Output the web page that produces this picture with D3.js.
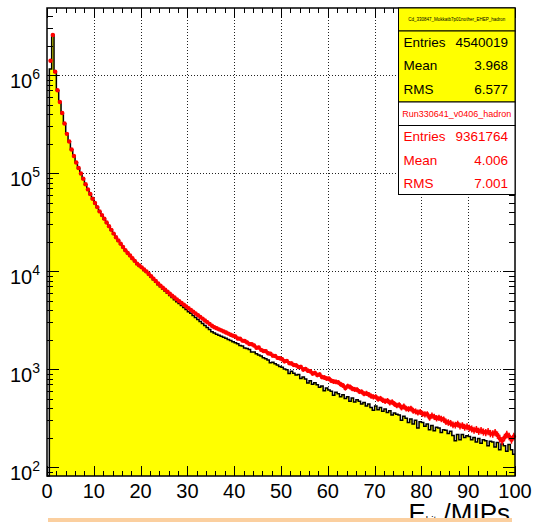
<!DOCTYPE html>
<html lang="en">
<head>
  <meta charset="UTF-8" />
  <title>E_hit MIPs</title>
  <script src="https://d3js.org/d3.v7.min.js"></script>
  <style>
    body { margin: 0; background: #fff; }
    text { font-family: "Liberation Sans", Arial, Helvetica, sans-serif; }
  </style>
</head>
<body>
  <svg id="mySvg" width="535" height="522"></svg>

  <script>
    // histogram bins: 0.5 MIP wide, 0..100
    const binWidth = 0.5;
    const xTicks = [0, 10, 20, 30, 40, 50, 60, 70, 80, 90, 100];
    const yTickExp = [2, 3, 4, 5, 6];

    // simulation (yellow filled, black outline)
    const mcCounts = [
      0, 1150000, 2560000, 1070000, 695000, 528000, 405000, 318000, 250000, 208000,
      173000, 148000, 127000, 111000, 98500, 86800, 76000, 67800, 60500, 54300,
      49000, 44600, 40300, 36800, 33800, 31000, 28400, 26100, 23800, 21900,
      20300, 18800, 17400, 16100, 15100, 14200, 13300, 12500, 11750, 11200,
      10700, 10150, 9700, 9150, 8650, 8150, 7700, 7250, 6900, 6550,
      6250, 5930, 5630, 5360, 5100, 4870, 4650, 4440, 4240, 4060,
      3850, 3700, 3510, 3360, 3200, 3050, 2910, 2780, 2650, 2530,
      2400, 2330, 2270, 2210, 2160, 2110, 2060, 2000, 1950, 1900,
      1850, 1810, 1740, 1720, 1640, 1620, 1580, 1490, 1490, 1430,
      1390, 1360, 1300, 1270, 1240, 1160, 1170, 1130, 1100, 1060,
      1040, 1000, 985, 900, 950, 905, 870, 880, 800, 830,
      790, 720, 760, 700, 725, 690, 650, 670, 600, 640,
      610, 595, 540, 580, 560, 520, 545, 500, 520, 470,
      505, 460, 485, 470, 440, 455, 420, 440, 405, 380,
      420, 385, 405, 370, 390, 360, 375, 340, 355, 345,
      340, 300, 330, 315, 285, 310, 275, 300, 250, 290,
      285, 260, 275, 240, 265, 235, 255, 250, 225, 240,
      238, 220, 232, 210, 185, 215, 190, 215, 200, 208,
      205, 190, 200, 180, 195, 175, 190, 185, 165, 183,
      180, 160, 178, 150, 172, 165, 145, 170, 150, 135
    ];

    // data run (red markers)
    const dataCounts = [
      0, 1400000, 2560000, 1080000, 700000, 530000, 410000, 320000, 251000, 210000,
      174000, 149000, 128000, 112500, 99000, 87300, 76700, 68100, 61100, 54700,
      49400, 44900, 40600, 37200, 34100, 31300, 28700, 26300, 24100, 22100,
      20500, 19000, 17600, 16300, 15300, 14400, 13500, 12700, 11900, 11400,
      10900, 10350, 9890, 9350, 8850, 8360, 7910, 7480, 7100, 6760,
      6460, 6150, 5870, 5600, 5360, 5140, 4930, 4720, 4530, 4350,
      4170, 4010, 3850, 3690, 3550, 3400, 3270, 3130, 3010, 2880,
      2760, 2670, 2610, 2540, 2480, 2420, 2360, 2300, 2240, 2190,
      2150, 2050, 2040, 1950, 1930, 1870, 1800, 1790, 1740, 1650,
      1660, 1570, 1530, 1520, 1450, 1430, 1370, 1360, 1300, 1290,
      1260, 1200, 1210, 1150, 1140, 1100, 1090, 1050, 1050, 990,
      1000, 960, 950, 900, 910, 870, 880, 830, 820, 800,
      795, 760, 745, 740, 730, 700, 680, 640, 670, 655,
      630, 620, 615, 590, 585, 560, 565, 550, 530, 520,
      520, 495, 500, 480, 470, 475, 455, 460, 440, 425,
      430, 405, 415, 395, 390, 395, 375, 370, 360, 365,
      350, 345, 345, 320, 335, 325, 315, 318, 310, 305,
      290, 285, 280, 270, 268, 275, 262, 265, 255, 258,
      250, 245, 238, 242, 232, 236, 228, 225, 230, 220,
      218, 225, 212, 195, 185, 200, 215, 205, 190, 205
    ];

    const statsLabels = ["Entries", "Mean", "RMS"];
    const mcStats = ["4540019", "3.968", "6.577"];
    const dataStats = ["9361764", "4.006", "7.001"];
    const mcTitle = "Cd_330847_Mokkatb7p01nother_EHEP_hadron";
    const dataTitle = "Run330641_v0406_hadron";

    const padL = 47, padR = 515, padT = 8, padB = 476;

    const svg = d3.select("#mySvg");

    const x = d3.scaleLinear().domain([0, 100]).range([padL, padR]);
    const y = d3.scaleLog().domain([81, 4.83e6]).range([padB, padT]).clamp(true);

    // grid
    const grid = svg.append("g")
      .attr("stroke", "#222")
      .attr("stroke-width", 1)
      .attr("stroke-dasharray", "1,2");
    xTicks.slice(1, -1).forEach(t => {
      grid.append("line")
        .attr("x1", Math.round(x(t)) + 0.5).attr("x2", Math.round(x(t)) + 0.5)
        .attr("y1", padT).attr("y2", padB);
    });
    yTickExp.forEach(e => {
      const yy = Math.round(y(Math.pow(10, e))) + 0.5;
      grid.append("line")
        .attr("x1", padL).attr("x2", padR)
        .attr("y1", yy).attr("y2", yy);
    });

    // simulation histogram
    const steps = mcCounts.map((v, i) => [i * binWidth, v]);
    steps.push([100, mcCounts[mcCounts.length - 1]]);

    const area = d3.area()
      .x(d => x(d[0]))
      .y0(padB)
      .y1(d => y(Math.max(d[1], 1)))
      .curve(d3.curveStepAfter);
    const line = d3.line()
      .x(d => x(d[0]))
      .y(d => y(Math.max(d[1], 1)))
      .curve(d3.curveStepAfter);

    svg.append("path")
      .datum(steps)
      .attr("d", area)
      .attr("fill", "#ffff00");
    svg.append("path")
      .datum(steps)
      .attr("d", line)
      .attr("fill", "none")
      .attr("stroke", "#000")
      .attr("stroke-width", 1.5);

    // data markers with errors
    const pts = dataCounts.map((v, i) => ({ c: (i + 0.5) * binWidth, v: v, i: i })).filter(d => d.v > 0);
    const marks = svg.append("g").attr("fill", "#ff0000").attr("stroke", "#ff0000");
    marks.selectAll("line.h")
      .data(pts)
      .join("line")
      .attr("class", "h")
      .attr("x1", d => x(d.i * binWidth)).attr("x2", d => x((d.i + 1) * binWidth))
      .attr("y1", d => y(d.v)).attr("y2", d => y(d.v))
      .attr("stroke-width", 2);
    marks.selectAll("line.v")
      .data(pts)
      .join("line")
      .attr("class", "v")
      .attr("x1", d => x(d.c)).attr("x2", d => x(d.c))
      .attr("y1", d => y(d.v + Math.sqrt(d.v)) - 0.8).attr("y2", d => y(d.v - Math.sqrt(d.v)) + 0.8)
      .attr("stroke-width", 1.5);
    marks.selectAll("circle")
      .data(pts)
      .join("circle")
      .attr("cx", d => x(d.c))
      .attr("cy", d => y(d.v))
      .attr("r", 2.2)
      .attr("stroke", "none");

    // frame + ticks
    const axes = svg.append("g").attr("stroke", "#000").attr("stroke-width", 1);
    axes.append("rect")
      .attr("x", padL).attr("y", padT)
      .attr("width", padR - padL).attr("height", padB - padT)
      .attr("fill", "none").attr("stroke-width", 1.5);

    for (let t = 0; t <= 100; t += 2) {
      const major = t % 10 === 0;
      const xx = Math.round(x(t)) + 0.5;
      const len = major ? 10 : 5;
      axes.append("line").attr("x1", xx).attr("x2", xx).attr("y1", padT).attr("y2", padT + len);
      axes.append("line").attr("x1", xx).attr("x2", xx).attr("y1", padB).attr("y2", padB - len);
    }
    for (let e = 1; e <= 6; e++) {
      for (let m = 1; m <= 9; m++) {
        const v = m * Math.pow(10, e);
        if (v < 81 || v > 4.83e6) continue;
        const yy = Math.round(y(v)) + 0.5;
        const len = m === 1 ? 12 : 6;
        axes.append("line").attr("x1", padL).attr("x2", padL + len).attr("y1", yy).attr("y2", yy);
        axes.append("line").attr("x1", padR).attr("x2", padR - len).attr("y1", yy).attr("y2", yy);
      }
    }

    // tick labels
    svg.append("g").selectAll("text")
      .data(xTicks)
      .join("text")
      .attr("x", d => x(d))
      .attr("y", 498)
      .attr("text-anchor", "middle")
      .attr("font-size", 20)
      .attr("fill", "#000")
      .text(d => d);

    const yl = svg.append("g").selectAll("text")
      .data(yTickExp)
      .join("text")
      .attr("x", 40)
      .attr("y", d => y(Math.pow(10, d)) + 13)
      .attr("text-anchor", "end")
      .attr("font-size", 20)
      .attr("fill", "#000");
    yl.append("tspan").text("10");
    yl.append("tspan").attr("dy", -9).attr("font-size", 14).text(d => d);

    // x axis title (cut by the bottom edge in the original too)
    const xt = svg.append("text")
      .attr("x", 510).attr("y", 522)
      .attr("text-anchor", "end")
      .attr("font-size", 26)
      .attr("fill", "#000");
    xt.append("tspan").text("E");
    xt.append("tspan").attr("font-size", 10).attr("dy", 2).text("hit");
    xt.append("tspan").attr("dy", -2).text(" /MIPs");

    // stats boxes
    const bx = 398.5, bw = padR - bx;
    function statsBox(y0, titleH, bodyH, fill, color, title, titleSize, values) {
      const g = svg.append("g");
      g.append("rect").attr("x", bx).attr("y", y0).attr("width", bw).attr("height", titleH)
        .attr("fill", fill).attr("stroke", "#000").attr("stroke-width", 1);
      g.append("text").attr("x", bx + bw / 2).attr("y", y0 + titleH / 2 + titleSize * 0.35)
        .attr("text-anchor", "middle").attr("font-size", titleSize).attr("fill", color).text(title);
      g.append("rect").attr("x", bx).attr("y", y0 + titleH).attr("width", bw).attr("height", bodyH)
        .attr("fill", fill).attr("stroke", "#000").attr("stroke-width", 1);
      statsLabels.forEach((lab, k) => {
        const yy = y0 + titleH + 15.5 + k * 23.7;
        g.append("text").attr("x", bx + 5).attr("y", yy).attr("font-size", 13.5).attr("fill", color).text(lab);
        g.append("text").attr("x", padR - 7).attr("y", yy).attr("text-anchor", "end")
          .attr("font-size", 13.5).attr("fill", color).text(values[k]);
      });
    }
    statsBox(8, 23, 71, "#ffff00", "#000", mcTitle, 4.5, mcStats);
    statsBox(102, 23.5, 69, "#fff", "#ff0000", dataTitle, 9, dataStats);

    // orange strip at the bottom
    svg.append("rect")
      .attr("x", 48).attr("y", 518)
      .attr("width", 464).attr("height", 4)
      .attr("fill", "#fbcf9f");
  </script>
</body>
</html>
